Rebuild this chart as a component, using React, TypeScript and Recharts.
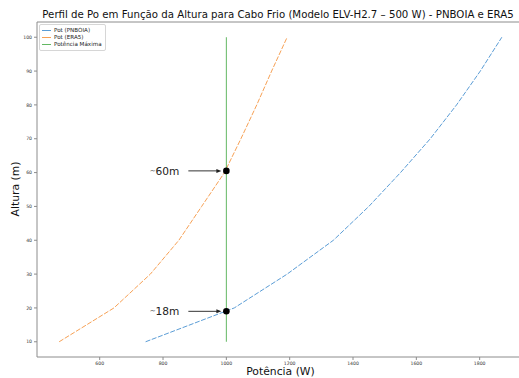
import React from 'react';
import { ComposedChart, Line, Scatter, XAxis, YAxis, Legend, ReferenceLine } from 'recharts';

const heights = [10, 20, 30, 40, 50, 60, 70, 80, 90, 100];
const potPnboia = [745, 1025, 1192, 1338, 1450, 1550, 1644, 1727, 1802, 1870];
const potEra5 = [472, 645, 760, 850, 922, 994, 1046, 1096, 1143, 1192];
const potMaxima = [1000, 1000];
const potMaximaHeights = [10, 100];

const marks = [
  { w: 1000, h: 60.5, label: '60m' },
  { w: 1000, h: 19, label: '18m' },
];

const xTicks = [600, 800, 1000, 1200, 1400, 1600, 1800];
const yTicks = [10, 20, 30, 40, 50, 60, 70, 80, 90, 100];
const xDomain = [402, 1940];
const yDomain = [5.5, 104.5];

const pnboiaData = heights.map((h, i) => ({ w: potPnboia[i], h }));
const era5Data = heights.map((h, i) => ({ w: potEra5[i], h }));
const maxData = potMaximaHeights.map((h, i) => ({ w: potMaxima[i], h }));

const FONT = '"DejaVu Sans", sans-serif';
const BLUE = '#5b9dd6';
const ORANGE = '#f7a155';
const GREEN = '#63b863';
const AXIS = '#8c8c8c';

const legendItems = [
  { name: 'Pot (PNBOIA)', color: BLUE },
  { name: 'Pot (ERA5)', color: ORANGE },
  { name: 'Potência Máxima', color: GREEN },
];

function LegendBox() {
  return (
    <div
      style={{
        border: '1px solid #d6d6d6',
        borderRadius: 2,
        background: 'rgba(255,255,255,0.8)',
        padding: '2px 3px 2px 2px',
        fontFamily: FONT,
        fontSize: 5.6,
        color: '#222',
        lineHeight: '6.5px',
      }}
    >
      {legendItems.map((it) => (
        <div key={it.name} style={{ display: 'flex', alignItems: 'center', height: 7 }}>
          <span style={{ display: 'inline-block', width: 9, height: 1, background: it.color, marginRight: 3 }} />
          <span>{it.name}</span>
        </div>
      ))}
    </div>
  );
}

function Marker(props: any) {
  const { cx, cy, payload } = props;
  if (cx == null || cy == null) return <g />;
  return (
    <g>
      <line x1={cx - 38} y1={cy} x2={cx - 9} y2={cy} stroke="#333" strokeWidth={1} />
      <polygon points={`${cx - 5},${cy} ${cx - 10},${cy - 2} ${cx - 10},${cy + 2}`} fill="#222" />
      <circle cx={cx} cy={cy} r={3.3} fill="#000" />
      <text x={cx - 47} y={cy} textAnchor="end" dominantBaseline="central" fontFamily={FONT} fontSize={10.6} fill="#222">
        <tspan fontSize={7}>~</tspan>
        <tspan>{payload.label}</tspan>
      </text>
    </g>
  );
}

const tickStyle = { fontSize: 4.6, fontFamily: FONT, fill: '#333' };

export default function App() {
  return (
    <div style={{ position: 'absolute', left: 0, top: 0, width: 519, height: 378, overflow: 'hidden', background: '#fff' }}>
      <ComposedChart width={530} height={378} margin={{ top: 22, right: 6, bottom: 0, left: 0 }}>
        <XAxis
          type="number"
          dataKey="w"
          domain={xDomain}
          ticks={xTicks}
          allowDataOverflow
          height={21}
          tickSize={3}
          stroke={AXIS}
          tick={tickStyle}
          tickMargin={2}
        />
        <YAxis
          type="number"
          dataKey="h"
          domain={yDomain}
          ticks={yTicks}
          allowDataOverflow
          width={37}
          tickSize={3}
          stroke={AXIS}
          tick={tickStyle}
          tickMargin={2}
        />
        <ReferenceLine y={yDomain[1]} stroke={AXIS} strokeWidth={1} ifOverflow="visible" />
        <ReferenceLine x={xDomain[1]} stroke={AXIS} strokeWidth={1} ifOverflow="visible" />
        <Line
          data={pnboiaData}
          dataKey="h"
          name="Pot (PNBOIA)"
          stroke={BLUE}
          strokeWidth={1}
          strokeDasharray="5 1.6"
          dot={false}
          activeDot={false}
          type="linear"
          isAnimationActive={false}
        />
        <Line
          data={era5Data}
          dataKey="h"
          name="Pot (ERA5)"
          stroke={ORANGE}
          strokeWidth={1}
          strokeDasharray="5 1.6"
          dot={false}
          activeDot={false}
          type="linear"
          isAnimationActive={false}
        />
        <Line
          data={maxData}
          dataKey="h"
          name="Potência Máxima"
          stroke={GREEN}
          strokeWidth={1}
          dot={false}
          activeDot={false}
          type="linear"
          isAnimationActive={false}
        />
        <Scatter data={marks} dataKey="h" shape={<Marker />} isAnimationActive={false} legendType="none" />
        <Legend
          layout="vertical"
          align="center"
          verticalAlign="middle"
          wrapperStyle={{ top: 24, left: 39, width: 'auto' }}
          content={() => <LegendBox />}
        />
      </ComposedChart>
      <svg width={519} height={378} style={{ position: 'absolute', left: 0, top: 0, pointerEvents: 'none' }}>
        <text x={278} y={18} textAnchor="middle" fontFamily={FONT} fontSize={10.2} fill="#111">
          Perfil de Po em Função da Altura para Cabo Frio (Modelo ELV-H2.7 – 500 W) - PNBOIA e ERA5
        </text>
        <text x={280.5} y={375} textAnchor="middle" fontFamily={FONT} fontSize={10.8} fill="#111">
          Potência (W)
        </text>
        <text
          x={15}
          y={189}
          textAnchor="middle"
          dominantBaseline="central"
          transform="rotate(-90 15 189)"
          fontFamily={FONT}
          fontSize={10.8}
          fill="#111"
        >
          Altura (m)
        </text>
      </svg>
    </div>
  );
}
